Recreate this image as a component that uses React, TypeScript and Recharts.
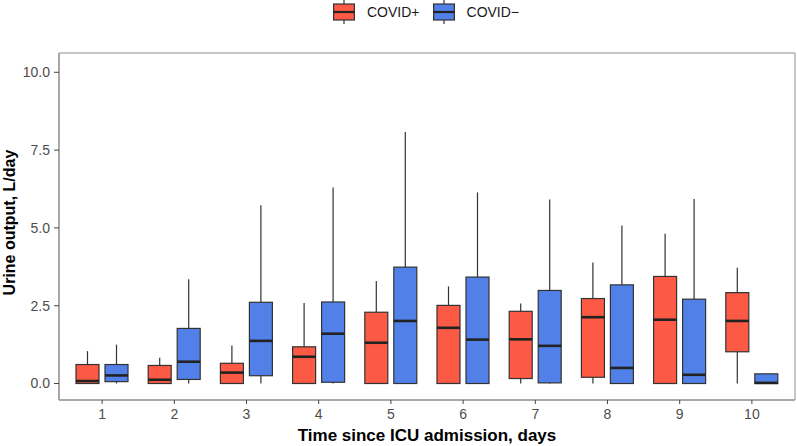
import React from 'react';
import { ComposedChart, Bar, XAxis, YAxis, Legend, Label, CartesianGrid } from 'recharts';

const days = ['1', '2', '3', '4', '5', '6', '7', '8', '9', '10'];

const posLow = [0, 0, 0, 0, 0, 0, 0, 0, 0, 0];
const posQ1 = [0, 0, 0, 0, 0, 0, 0.16, 0.2, 0, 1.02];
const posMed = [0.08, 0.12, 0.35, 0.86, 1.31, 1.79, 1.42, 2.13, 2.05, 2.01];
const posQ3 = [0.61, 0.58, 0.65, 1.18, 2.29, 2.51, 2.32, 2.73, 3.44, 2.92];
const posHigh = [1.04, 0.83, 1.22, 2.59, 3.29, 3.12, 2.57, 3.89, 4.81, 3.72];

const negLow = [0, 0, 0, 0, 0, 0, 0, 0, 0, 0];
const negQ1 = [0.06, 0.13, 0.25, 0.04, 0, 0, 0.02, 0, 0, 0];
const negMed = [0.26, 0.7, 1.37, 1.6, 2.01, 1.41, 1.21, 0.5, 0.28, 0.02];
const negQ3 = [0.61, 1.77, 2.61, 2.62, 3.74, 3.42, 2.99, 3.17, 2.71, 0.31];
const negHigh = [1.25, 3.35, 5.73, 6.3, 8.08, 6.14, 5.91, 5.08, 5.93, 0.31];

const yTicks = [0, 2.5, 5, 7.5, 10];
const seriesNames = ['COVID+', 'COVID\u2212'];

const RED = '#FC5A45';
const BLUE = '#5080E8';
const BORDER = '#8c8c8c';
const FONT = '"Liberation Sans", Arial, Helvetica, sans-serif';

const data = days.map((d, i) => ({
  day: d,
  posLow: posLow[i], posQ1: posQ1[i], posMed: posMed[i], posQ3: posQ3[i], posHigh: posHigh[i],
  negLow: negLow[i], negQ1: negQ1[i], negMed: negMed[i], negQ3: negQ3[i], negHigh: negHigh[i],
}));

function makeBox(prefix: string, fill: string) {
  return (props: any) => {
    const { x, y, width, height, payload } = props;
    if (!payload) return <g />;
    const lo = payload[prefix + 'Low'];
    const hi = payload[prefix + 'High'];
    const q1 = payload[prefix + 'Q1'];
    const med = payload[prefix + 'Med'];
    const q3 = payload[prefix + 'Q3'];
    const top = Math.min(y, y + height);
    const bot = Math.max(y, y + height);
    const py = (v: number) => (hi === lo ? top : top + ((hi - v) / (hi - lo)) * (bot - top));
    const cx = x + width / 2;
    const yq1 = py(q1);
    const yq3 = py(q3);
    const ym = py(med);
    return (
      <g>
        <line x1={cx} x2={cx} y1={py(hi)} y2={yq3} stroke="#333" strokeWidth={1.2} />
        <line x1={cx} x2={cx} y1={yq1} y2={py(lo)} stroke="#333" strokeWidth={1.2} />
        <rect x={x} y={yq3} width={width} height={Math.max(yq1 - yq3, 0.5)} fill={fill} stroke="#333" strokeWidth={1.2} />
        <line x1={x} x2={x + width} y1={ym} y2={ym} stroke="#222" strokeWidth={2.6} />
      </g>
    );
  };
}

function Glyph({ fill }: { fill: string }) {
  return (
    <svg width={22} height={24} style={{ display: 'block' }}>
      <line x1={11} x2={11} y1={0} y2={24} stroke="#333" strokeWidth={1.2} />
      <rect x={0.6} y={4} width={20.8} height={16} fill={fill} stroke="#333" strokeWidth={1.2} />
      <line x1={0.6} x2={21.4} y1={12} y2={12} stroke="#222" strokeWidth={2.2} />
    </svg>
  );
}

function LegendContent() {
  return (
    <div style={{ height: 24, width: 797, display: 'flex', alignItems: 'center', fontFamily: FONT, fontSize: 14, color: '#1a1a1a' }}>
      <div style={{ marginLeft: 333 }}><Glyph fill={RED} /></div>
      <span style={{ marginLeft: 12 }}>{seriesNames[0]}</span>
      <div style={{ marginLeft: 13 }}><Glyph fill={BLUE} /></div>
      <span style={{ marginLeft: 12 }}>{seriesNames[1]}</span>
    </div>
  );
}

function YTitle(props: any) {
  const vb = props.viewBox || { x: 0, y: 0, width: 0, height: 0 };
  const cy = vb.y + vb.height / 2 - 4;
  return (
    <text x={15} y={cy} transform={`rotate(-90, 15, ${cy})`} textAnchor="middle" fontFamily={FONT} fontWeight="bold" fontSize={16} fill="#000">
      Urine output, L/day
    </text>
  );
}

function XTitle(props: any) {
  const vb = props.viewBox || { x: 0, y: 0, width: 0, height: 0 };
  return (
    <text x={vb.x + vb.width / 2} y={441} textAnchor="middle" fontFamily={FONT} fontWeight="bold" fontSize={17} fill="#000">
      Time since ICU admission, days
    </text>
  );
}

export default function App() {
  return (
    <div style={{ position: 'absolute', left: 0, top: 0, width: 797, height: 446, background: '#fff', fontFamily: FONT }}>
      <ComposedChart width={797} height={446} data={data} margin={{ top: 29, right: 2, bottom: 0, left: 0 }} barSize={23} barGap={6}>
        <Legend verticalAlign="top" align="left" content={<LegendContent />} wrapperStyle={{ top: 0, left: 0, height: 24 }} />
        <CartesianGrid stroke={BORDER} strokeWidth={1}
          horizontalCoordinatesGenerator={({ offset }: any) => [offset.top, offset.top + offset.height]}
          verticalCoordinatesGenerator={({ offset }: any) => [offset.left, offset.left + offset.width]} />
        <XAxis dataKey="day" type="category" height={46} padding={{ left: 7, right: 7 }}
          tickSize={4} tickMargin={5} tickLine={{ stroke: '#444' }} axisLine={{ stroke: BORDER }}
          tick={{ fill: '#4d4d4d', fontSize: 14, fontFamily: FONT }} interval={0}>
          <Label content={<XTitle />} />
        </XAxis>
        <YAxis type="number" domain={[-0.53, 10.62]} allowDataOverflow ticks={yTicks} width={59}
          tickFormatter={(v: number) => v.toFixed(1)} tickSize={5} tickMargin={4}
          tickLine={{ stroke: '#444' }} axisLine={{ stroke: BORDER }}
          tick={{ fill: '#4d4d4d', fontSize: 14, fontFamily: FONT }}>
          <Label content={<YTitle />} />
        </YAxis>
        <Bar name={seriesNames[0]} dataKey={(d: any) => [d.posLow, d.posHigh]} shape={makeBox('pos', RED)} isAnimationActive={false} activeBar={false} />
        <Bar name={seriesNames[1]} dataKey={(d: any) => [d.negLow, d.negHigh]} shape={makeBox('neg', BLUE)} isAnimationActive={false} activeBar={false} />
      </ComposedChart>
    </div>
  );
}
